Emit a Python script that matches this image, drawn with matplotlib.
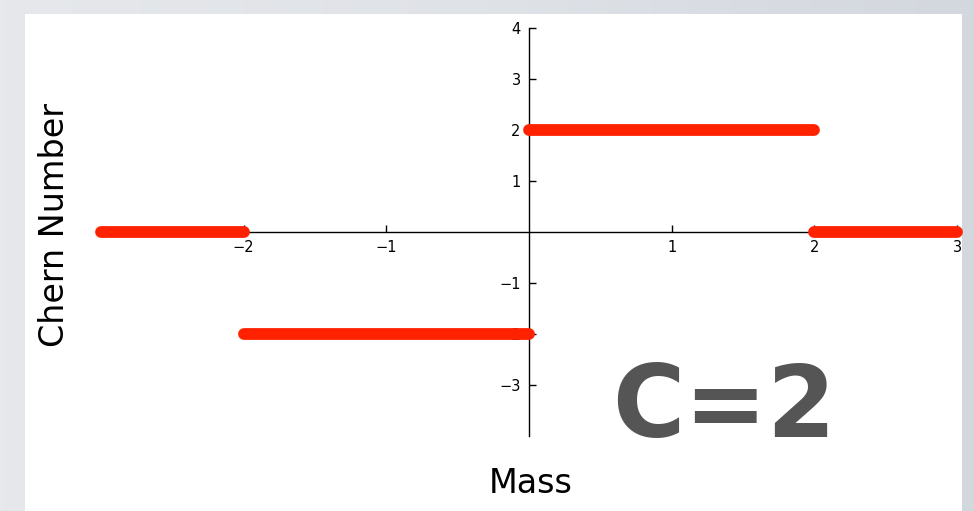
import numpy as np
import matplotlib
matplotlib.use("Agg")
import matplotlib.pyplot as plt
from matplotlib.patches import Rectangle
from matplotlib.colors import LinearSegmentedColormap

# Chern number as a piecewise-constant function of the mass parameter
seg_x_start = [-3, -2, 0, 2]
seg_x_end = [-2, 0, 2, 3]
seg_chern = [0, -2, 2, 0]

x_ticks = [-2, -1, 1, 2, 3]
y_ticks = [-3, -2, -1, 1, 2, 3, 4]

W, H = 974, 511
fig = plt.figure(figsize=(W / 100, H / 100), dpi=100)

# soft grey slide background with a white panel
bg = fig.add_axes([0, 0, 1, 1], zorder=-10)
grad = np.linspace(0, 1, 256)[None, :]
cmap = LinearSegmentedColormap.from_list("bg", ["#e6e8eb", "#dfe2e7", "#d3d7de"])
bg.imshow(grad, aspect="auto", cmap=cmap, extent=[0, 1, 0, 1])
bg.add_patch(Rectangle((25 / W, 0), (962 - 25) / W, (H - 14) / H,
                       facecolor="white", edgecolor="none"))
bg.set_xlim(0, 1)
bg.set_ylim(0, 1)
bg.axis("off")

ax = fig.add_axes([101 / W, (H - 436) / H, 856 / W, 408 / H])
ax.patch.set_alpha(0)
ax.set_xlim(-3, 3)
ax.set_ylim(-4, 4)

for s in ["top", "right"]:
    ax.spines[s].set_visible(False)
ax.spines["left"].set_position("zero")
ax.spines["bottom"].set_position("zero")
for s in ["left", "bottom"]:
    ax.spines[s].set_linewidth(1.0)
    ax.spines[s].set_color("black")

ax.set_xticks(x_ticks)
ax.set_yticks(y_ticks)
ax.set_xticklabels(["\u22122", "\u22121", "1", "2", "3"])
ax.set_yticklabels(["\u22123", "\u22122", "\u22121", "1", "2", "3", "4"])
ax.tick_params(direction="in", length=5, width=1, labelsize=10.5, pad=6,
               colors="black")

for x0, x1, c in zip(seg_x_start, seg_x_end, seg_chern):
    ax.plot([x0, x1], [c, c], color="#ff2200", lw=8.5,
            solid_capstyle="round", zorder=5, clip_on=False)

fig.text(55 / W, 1 - 225 / H, "Chern Number", rotation=90, ha="center",
         va="center", fontsize=24, family="DejaVu Sans", color="black")
fig.text(531 / W, 1 - 483 / H, "Mass", ha="center", va="center",
         fontsize=24, family="DejaVu Sans", color="black")

fig.text(724 / W, 1 - 410 / H, "C=2", ha="center", va="center",
         fontsize=71, fontweight="bold", family="DejaVu Sans",
         color="#555555")

fig.savefig("out.png", dpi=100)
